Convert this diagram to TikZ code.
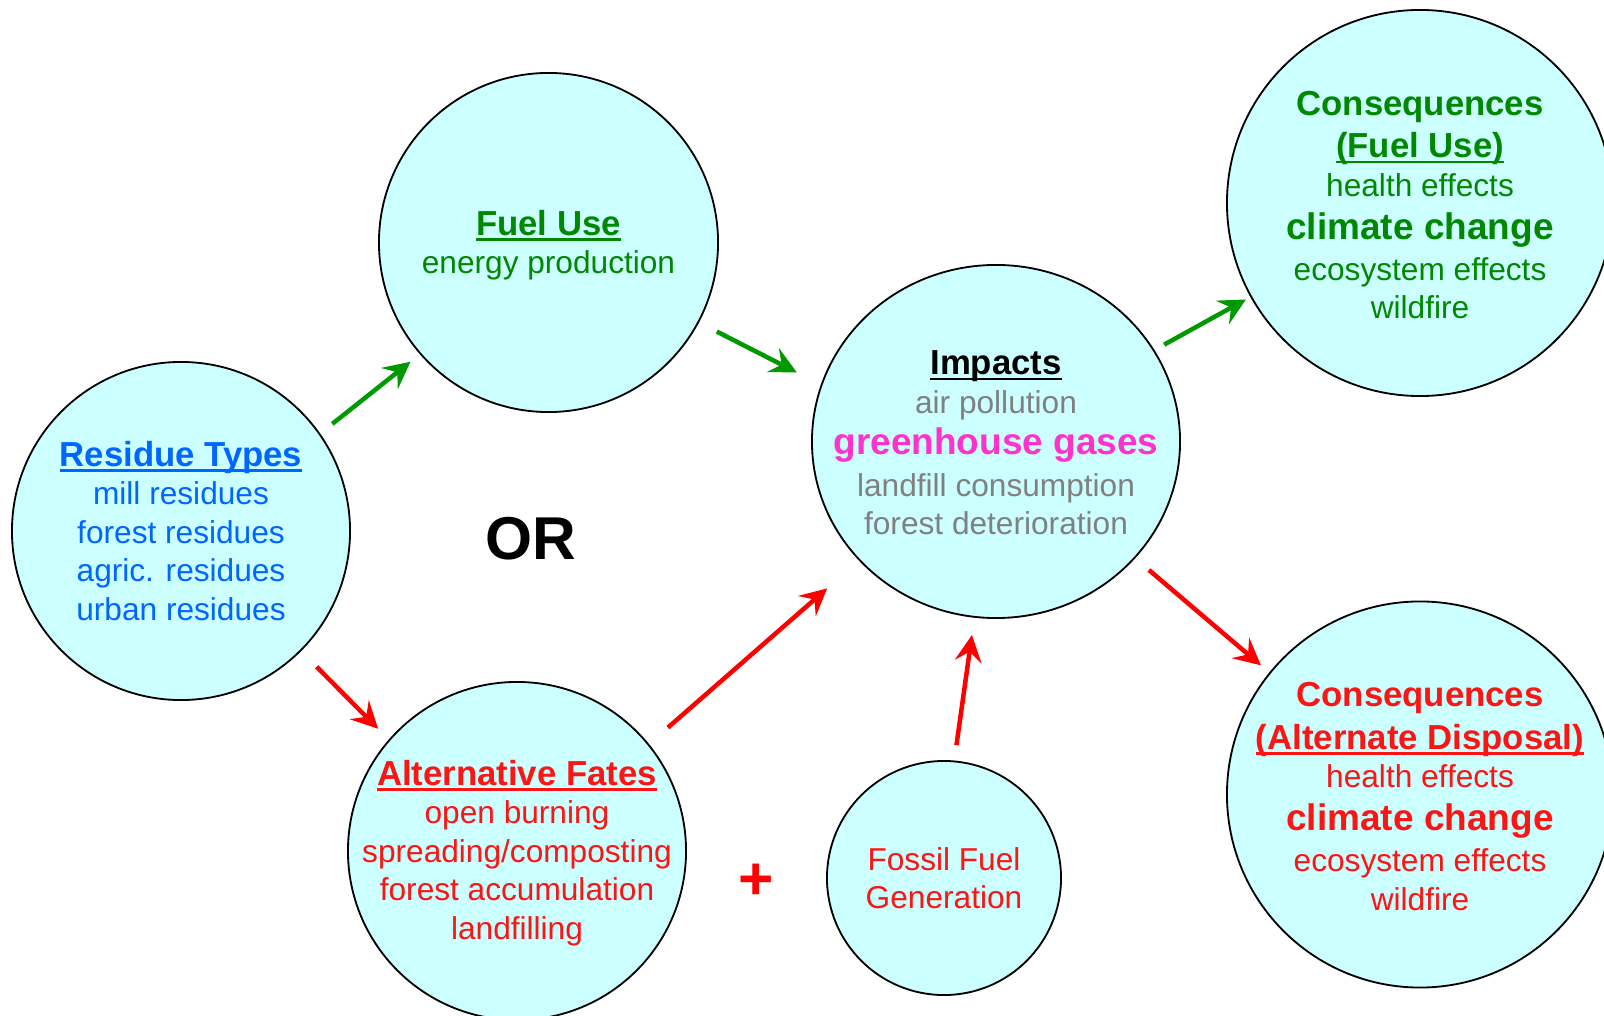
\documentclass[tikz,border=0pt]{standalone}
\usepackage{xcolor}
\usepackage{fontspec}
\setmainfont{Liberation Sans}
\usetikzlibrary{shapes.geometric,arrows.meta}
\definecolor{bubblefill}{RGB}{204,255,255}
\definecolor{residueblue}{RGB}{0,102,255}
\definecolor{fuelgreen}{RGB}{0,136,0}
\definecolor{arrowgreen}{RGB}{0,153,0}
\definecolor{fatered}{RGB}{255,20,20}
\definecolor{impactgray}{RGB}{128,128,128}
\definecolor{ghgpink}{RGB}{255,51,204}

\newcommand{\bodyfont}{\fontsize{22.5pt}{27.4pt}\selectfont}
\newcommand{\headfont}{\fontsize{24.7pt}{27.4pt}\selectfont\bfseries}
\newcommand{\bigfont}{\fontsize{26.3pt}{27.4pt}\selectfont\bfseries}
\newcommand{\uln}[1]{\leavevmode\setbox0\hbox{#1}\rlap{\rule[-0.16em]{\wd0}{0.075em}}\box0}

\begin{document}
\begin{tikzpicture}[
    x=0.025cm, y=-0.025cm,
    bubble/.style={circle, draw=black, fill=bubblefill, line width=1.3pt, inner sep=0pt},
    bubbletext/.style={align=center, font=\bodyfont, inner sep=0pt},
    arrow/.style={-{Stealth[length=19pt,width=19pt,inset=7pt]}, line width=3.2pt},
    fuelarrow/.style={arrow, color=arrowgreen},
    fatearrow/.style={arrow, color=red}
]
    \useasboundingbox (0,0) rectangle (1604,1016);

    % bubbles
    \node[bubble, minimum size=8.45cm] (res) at (181,531) {};
    \node[bubble, minimum size=8.475cm] (fuel) at (548.5,242.5) {};
    \node[bubble, minimum size=8.45cm] (alt) at (517,851) {};
    \node[bubble, ellipse, minimum width=9.2cm, minimum height=8.825cm] (impacts) at (996,441.5) {};
    \node[bubble, minimum size=5.85cm] (fossil) at (944,878) {};
    \node[bubble, minimum size=9.65cm] (consfuel) at (1420,203) {};
    \node[bubble, minimum size=9.65cm] (consalt) at (1420,794.5) {};

    % texts
    \node[bubbletext, text=residueblue] (restxt) at (res)
        {{\headfont\uln{Residue Types}}\\ mill residues\\ forest residues\\ agric. residues\\ urban residues};
    \node[bubbletext, text=fuelgreen] (fueltxt) at (548.5,245)
        {{\headfont\uln{Fuel Use}}\\ energy production};
    \node[bubbletext, text=impactgray] (impactstxt) at (996,443)
        {{\headfont\color{black}\uln{Impacts}}\\ air pollution\\[2pt]
         {\bigfont\color{ghgpink}greenhouse gases}\\[2pt] landfill consumption\\ forest deterioration};
    \node[bubbletext, text=fatered] (alttxt) at (517,853)
        {{\headfont\uln{Alternative Fates}}\\ open burning\\ spreading/composting\\ forest accumulation\\ landfilling};
    \node[bubbletext, text=fatered] (fossiltxt) at (fossil) {Fossil Fuel\\ Generation};
    \node[bubbletext, text=fuelgreen] (consfueltxt) at (1420,205)
        {{\headfont Consequences}\\[3pt] {\headfont\uln{(Fuel Use)}}\\ health effects\\[3pt]
         {\bigfont climate change}\\[2pt] ecosystem effects\\ wildfire};
    \node[bubbletext, text=fatered] (consalttxt) at (1420,796.5)
        {{\headfont Consequences}\\[3pt] {\headfont\uln{(Alternate Disposal)}}\\ health effects\\[3pt]
         {\bigfont climate change}\\[2pt] ecosystem effects\\ wildfire};

    \node[font=\fontsize{43pt}{50pt}\selectfont\bfseries] (ortxt) at (531,539) {OR};
    \node[font=\fontsize{43pt}{50pt}\selectfont\bfseries, text=red] (plus) at (756,882) {+};

    % arrows
    \draw[fuelarrow, shorten <=11pt, shorten >=8.5pt] (res.35) -- (fuel.221);
    \draw[fuelarrow, shorten <=14.2pt, shorten >=19.2pt] (fuel.332) -- (impacts.162);
    \draw[fatearrow, shorten <=15.6pt, shorten >=10.7pt] (res.315) -- (alt.139);
    \draw[fatearrow, shorten <=17.8pt, shorten >=30pt] (alt.39) -- (impacts.221);
    \draw[fatearrow, shorten <=11pt, shorten >=12.4pt] (fossil.85) -- (impacts.263);
    \draw[fuelarrow, shorten <=7.8pt, shorten >=3.6pt] (impacts.30) -- (consfuel.209);
    \draw[fatearrow, shorten <=12.8pt, shorten >=7.8pt] (impacts.320) -- (consalt.141);
\end{tikzpicture}
\end{document}
